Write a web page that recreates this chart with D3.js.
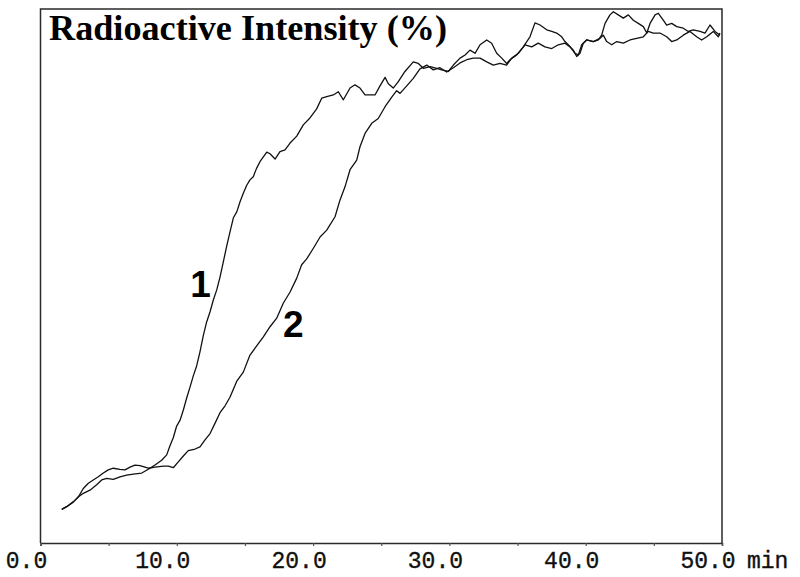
<!DOCTYPE html>
<html>
<head>
<meta charset="utf-8">
<script src="https://cdn.jsdelivr.net/npm/d3@7"></script>
<style>
  html, body { margin: 0; padding: 0; background: #fff; }
  svg { display: block; }
</style>
</head>
<body>
<svg id="chart" width="800" height="577"></svg>
<script>
// ---- Data ----
const titleText = "Radioactive Intensity (%)";
const unitLabel = "min";
const tickValues = [0, 10, 20, 30, 40, 50];
const tickLabels = ["0.0", "10.0", "20.0", "30.0", "40.0", "50.0"];
const minorTicks = [5, 15, 25, 35, 45];
const seriesNames = ["1", "2"];

const time1 = [1.56,1.92,2.41,2.77,3.14,3.63,4.12,4.49,4.86,5.34,5.83,6.32,6.81,7.43,7.91,8.40,8.89,9.26,9.50,9.74,9.99,10.24,10.48,10.73,10.97,11.21,11.46,11.70,11.94,12.19,12.44,12.68,12.93,13.17,13.41,13.66,13.90,14.15,14.40,14.64,14.88,15.13,15.37,15.61,15.86,16.10,16.35,16.60,16.84,17.21,17.57,17.94,18.31,18.80,19.28,19.77,20.26,20.63,21.00,21.48,21.85,22.22,22.71,23.07,23.44,23.81,24.17,24.54,24.91,25.28,25.52,25.88,26.25,26.74,27.35,27.72,28.09,28.58,29.07,29.44,29.92,30.29,30.78,31.15,31.51,31.88,32.25,32.74,33.10,33.47,33.84,34.20,34.45,34.94,35.42,35.91,36.28,36.65,37.14,37.51,37.87,38.24,38.48,38.72,39.09,39.34,39.58,39.82,40.07,40.56,40.93,41.17,41.42,41.78,42.03,42.39,42.76,43.13,43.49,43.86,44.23,44.48,44.72,45.09,45.33,45.69,45.94,46.31,46.68,47.16,47.53,47.89,48.39,48.75,49.12,49.49,49.85];
const intensity1 = [6.3,6.8,7.7,8.6,9.3,9.9,10.9,11.8,12.1,11.9,12.4,12.7,12.9,13.1,13.8,14.6,15.5,16.5,18.2,19.7,21.9,23.0,24.9,27.2,29.2,31.3,33.2,35.8,38.8,41.4,43.3,45.5,47.4,49.8,52.6,55.6,58.2,60.9,62.0,63.9,65.5,67.0,68.0,68.6,70.2,71.4,72.3,73.2,72.9,71.9,73.3,73.6,74.9,76.2,78.3,79.6,81.3,83.3,83.6,83.9,84.5,83.0,85.2,85.8,85.2,83.9,83.9,83.9,85.6,87.2,86.0,85.2,86.4,88.3,90.1,89.8,88.9,89.2,88.9,88.6,88.3,89.5,90.8,91.4,92.3,91.7,93.3,94.2,93.6,91.7,90.8,89.8,90.5,91.4,92.9,94.8,97.4,97.0,96.1,95.8,95.5,94.8,93.9,93.3,92.3,91.1,91.7,93.6,94.2,93.9,94.2,95.1,97.3,98.9,99.5,98.9,98.3,98.9,97.9,97.3,96.7,95.5,97.3,98.9,99.2,97.9,97.0,97.3,96.7,96.4,95.8,96.1,95.8,95.5,97.0,95.8,95.1];

const time2 = [1.56,1.92,2.41,2.77,3.14,3.51,3.87,4.24,4.61,4.97,5.34,5.83,6.20,6.57,6.93,7.30,7.67,7.91,8.40,9.01,9.38,9.74,10.11,10.48,10.84,11.34,11.70,12.07,12.44,12.80,13.17,13.54,13.90,14.40,14.88,15.37,15.86,16.35,16.84,17.33,17.81,18.31,18.80,19.16,19.53,20.02,20.51,21.00,21.61,21.97,22.34,22.71,23.20,23.44,23.81,24.30,24.78,25.28,25.77,26.13,26.38,26.87,27.35,27.84,28.34,28.82,29.31,29.80,30.29,30.78,31.27,31.75,32.25,32.74,33.22,33.71,34.20,34.57,35.06,35.55,36.04,36.52,37.01,37.51,37.99,38.48,38.85,39.22,39.46,39.71,40.07,40.56,41.05,41.29,41.54,41.91,42.28,42.76,43.25,43.74,44.23,44.59,44.96,45.45,45.94,46.31,46.68,47.16,47.65,48.14,48.51,48.88,49.36,49.73,49.85];
const intensity2 = [6.3,6.8,7.7,8.6,10.2,11.2,11.8,12.4,13.1,13.7,14.0,13.8,13.7,14.2,14.6,14.5,14.2,14.0,14.2,14.4,14.4,14.1,15.2,16.3,17.3,17.6,18.0,19.3,20.5,22.4,24.4,25.7,27.3,30.3,32.0,35.2,36.9,38.6,40.5,42.1,44.9,47.0,49.6,52.1,53.2,55.2,57.3,58.6,61.1,64.2,66.7,69.9,71.7,74.2,76.7,78.6,79.5,81.7,83.5,84.7,84.2,85.6,87.0,88.8,89.5,88.6,89.0,88.2,89.0,89.9,90.5,90.8,90.8,90.1,89.5,89.8,89.5,90.8,91.7,93.3,92.9,93.6,92.9,92.6,93.3,93.6,92.9,91.7,91.4,93.3,94.2,93.9,94.5,95.1,93.9,93.3,93.9,93.6,94.2,94.5,94.8,95.8,95.5,95.5,94.8,93.9,94.2,95.1,95.8,94.8,94.2,94.8,95.8,94.8,95.5];

// label anchor positions in data units (time, intensity)
const labelPos = [[11.75, 46.0], [18.55, 38.5]];

// ---- Drawing ----
const W = 800, H = 577;
const plot = { left: 40.5, right: 722, top: 9, bottom: 543 };

const svg = d3.select("#chart");
svg.append("rect").attr("width", W).attr("height", H).attr("fill", "#fff");

const x = d3.scaleLinear().domain([0, 50]).range([plot.left, plot.right]);
const y = d3.scaleLinear().domain([0, 100]).range([plot.bottom, plot.top]);

// frame (left, top, right)
svg.append("path")
  .attr("d", `M${plot.left},${plot.bottom} V${plot.top} H${plot.right} V${plot.bottom}`)
  .attr("fill", "none").attr("stroke", "#2a2a2a").attr("stroke-width", 1.5);

// x axis
const axis = d3.axisBottom(x)
  .tickValues(tickValues.concat(minorTicks))
  .tickSize(3)
  .tickFormat(() => "");
const gAxis = svg.append("g").attr("transform", `translate(0,${plot.bottom})`).call(axis);
gAxis.select(".domain").attr("stroke", "#2a2a2a").attr("stroke-width", 1.5);
gAxis.selectAll(".tick line").attr("stroke", "#555").attr("stroke-width", 1.2);

const monoFont = "'Liberation Mono', 'Courier New', monospace";
const lblG = svg.append("g");
tickValues.forEach((v, i) => {
  lblG.append("text")
    .attr("x", x(v) - 14)
    .attr("y", 568)
    .attr("text-anchor", "middle")
    .attr("font-family", monoFont)
    .attr("font-size", 23)
    .attr("fill", "#111")
    .attr("stroke", "#111")
    .attr("stroke-width", 0.35)
    .text(tickLabels[i]);
});
lblG.append("text")
  .attr("x", x(50) + 25)
  .attr("y", 568)
  .attr("font-family", monoFont)
  .attr("font-size", 23)
  .attr("fill", "#111")
  .attr("stroke", "#111")
  .attr("stroke-width", 0.35)
  .text(unitLabel);

// curves
const clipId = "plotclip";
svg.append("clipPath").attr("id", clipId).append("rect")
  .attr("x", plot.left).attr("y", plot.top)
  .attr("width", plot.right - plot.left).attr("height", plot.bottom - plot.top);

const line = d3.line().x(d => x(d[0])).y(d => y(d[1]));
const series = [
  d3.zip(time1, intensity1),
  d3.zip(time2, intensity2)
];
svg.append("g").attr("clip-path", `url(#${clipId})`)
  .selectAll("path").data(series).join("path")
  .attr("d", line)
  .attr("fill", "none")
  .attr("stroke", "#111")
  .attr("stroke-width", 1.3)
  .attr("stroke-linejoin", "round");

// series labels
seriesNames.forEach((n, i) => {
  svg.append("text")
    .attr("x", x(labelPos[i][0]))
    .attr("y", y(labelPos[i][1]))
    .attr("text-anchor", "middle")
    .attr("font-family", "'Liberation Sans', Arial, sans-serif")
    .attr("font-weight", "bold")
    .attr("font-size", 37)
    .attr("fill", "#000")
    .text(n);
});

// title
svg.append("text")
  .attr("x", 49)
  .attr("y", 40)
  .attr("font-family", "'Liberation Serif', 'Times New Roman', serif")
  .attr("font-weight", "bold")
  .attr("font-size", 35)
  .attr("textLength", 398)
  .attr("lengthAdjust", "spacingAndGlyphs")
  .attr("fill", "#000")
  .text(titleText);
</script>
</body>
</html>
